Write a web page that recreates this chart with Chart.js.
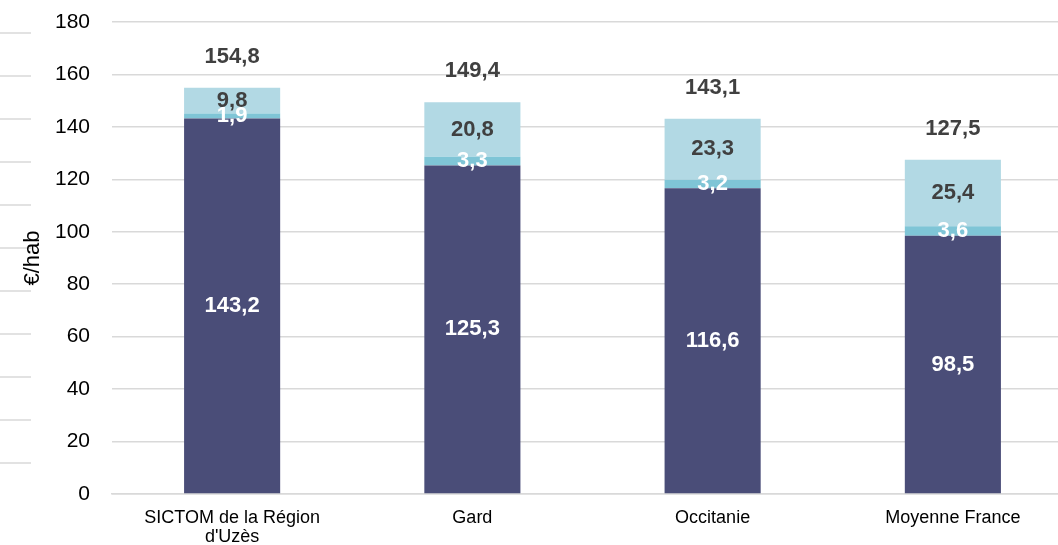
<!DOCTYPE html>
<html>
<head>
<meta charset="utf-8">
<script src="https://cdn.jsdelivr.net/npm/chart.js@4"></script>
<style>
  html, body { margin: 0; padding: 0; background: #fff; overflow: hidden; }
  #wrap { width: 1075px; height: 545px; }
</style>
</head>
<body>
<div id="wrap"><canvas id="myChart" width="1075" height="545"></canvas></div>
<script>
const labels = [
    ['SICTOM de la Région', "d'Uzès"],
    'Gard',
    'Occitanie',
    'Moyenne France',
];

const coutBase = [143.2, 125.3, 116.6, 98.5];
const coutMilieu = [1.9, 3.3, 3.2, 3.6];
const coutHaut = [9.8, 20.8, 23.3, 25.4];
const totaux = [154.8, 149.4, 143.1, 127.5];

const yTicks = [0, 20, 40, 60, 80, 100, 120, 140, 160, 180];

const FONT = '"Liberation Sans", Arial, sans-serif';
const fmt = (v) => v.toFixed(1).replace('.', ',');

// valeurs dans les segments + total au-dessus de chaque barre
const valueLabels = {
    id: 'valueLabels',
    afterDatasetsDraw(chart) {
        const ctx = chart.ctx;
        ctx.save();
        ctx.font = 'bold 22px ' + FONT;
        ctx.textAlign = 'center';
        ctx.textBaseline = 'middle';
        chart.data.datasets.forEach((ds, i) => {
            const meta = chart.getDatasetMeta(i);
            meta.data.forEach((bar, j) => {
                ctx.fillStyle = ds.labelColor;
                const mid = (bar.y + bar.base) / 2;
                ctx.fillText(fmt(ds.data[j]), bar.x, mid);
            });
        });
        const top = chart.getDatasetMeta(chart.data.datasets.length - 1);
        ctx.fillStyle = '#404040';
        top.data.forEach((bar, j) => {
            ctx.fillText(fmt(totaux[j]), bar.x, bar.y - 31);
        });
        ctx.restore();
    }
};

// petits traits gris en marge gauche
const marginLines = {
    id: 'marginLines',
    beforeDraw(chart) {
        const ctx = chart.ctx;
        ctx.save();
        ctx.strokeStyle = '#d9d9d9';
        ctx.lineWidth = 1.5;
        for (let k = 0; k < 11; k++) {
            const y = 33 + k * 43;
            ctx.beginPath();
            ctx.moveTo(0, y);
            ctx.lineTo(31, y);
            ctx.stroke();
        }
        ctx.restore();
    }
};

const data = {
    labels: labels,
    datasets: [{
        label: 'base',
        data: coutBase,
        backgroundColor: '#4a4d78',
        labelColor: '#ffffff',
    }, {
        label: 'milieu',
        data: coutMilieu,
        backgroundColor: '#7fc5d6',
        labelColor: '#ffffff',
    }, {
        label: 'haut',
        data: coutHaut,
        backgroundColor: '#b2d9e4',
        labelColor: '#404040',
    }]
};

const config = {
    type: 'bar',
    data: data,
    options: {
        responsive: false,
        animation: false,
        barPercentage: 0.4,
        categoryPercentage: 1,
        layout: {
            padding: { top: 22, right: 2, left: 0, bottom: 0 }
        },
        scales: {
            x: {
                stacked: true,
                grid: { display: false },
                border: { color: '#d9d9d9', width: 1.5 },
                ticks: {
                    color: '#000000',
                    padding: 7,
                    maxRotation: 0,
                    font: { family: FONT, size: 18, lineHeight: 1.05 }
                },
                afterFit: (scale) => { scale.height = 51; }
            },
            y: {
                stacked: true,
                min: 0,
                max: 180,
                afterBuildTicks: (scale) => {
                    scale.ticks = yTicks.map(v => ({ value: v }));
                },
                grid: {
                    color: '#d9d9d9',
                    lineWidth: 1.5,
                    drawTicks: false
                },
                border: { display: false },
                ticks: {
                    color: '#000000',
                    padding: 22,
                    font: { family: FONT, size: 21 }
                },
                title: {
                    display: true,
                    text: '€/hab',
                    color: '#000000',
                    padding: { top: 20, bottom: 0 },
                    font: { family: FONT, size: 22 }
                },
                afterFit: (scale) => {
                    scale.width = 112;
                    scale.paddingTop = 0;
                    scale.paddingBottom = 0;
                }
            }
        },
        plugins: {
            legend: { display: false },
            tooltip: { enabled: false },
            title: { display: false }
        }
    },
    plugins: [marginLines, valueLabels]
};

const myChart = new Chart(
    document.getElementById('myChart'),
    config
);
</script>
</body>
</html>
